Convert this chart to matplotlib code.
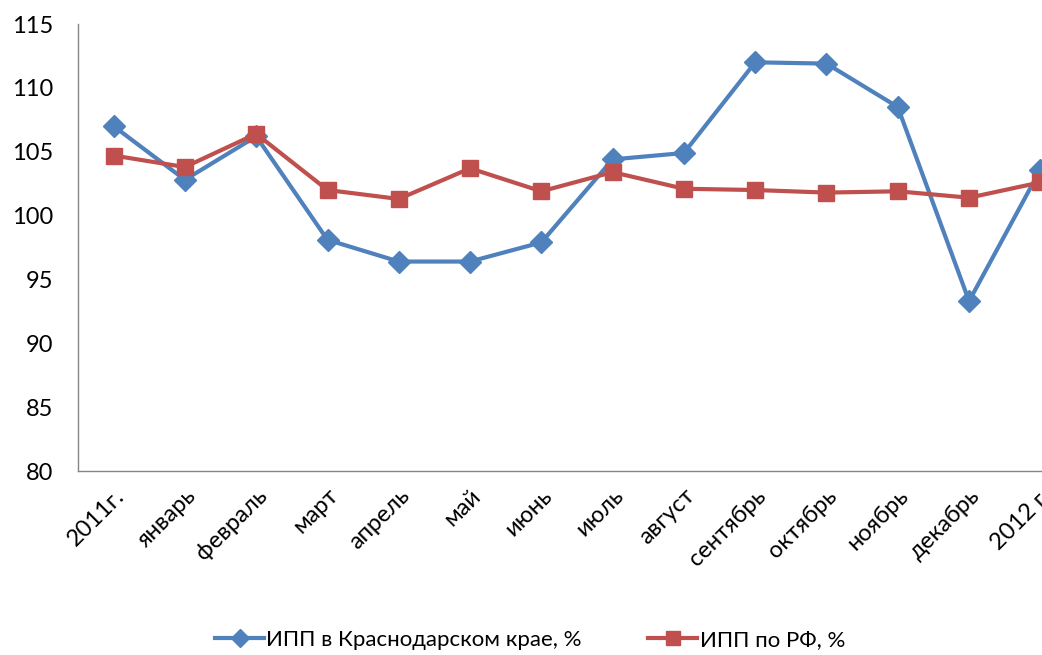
import matplotlib
matplotlib.use("Agg")
import matplotlib.pyplot as plt

categories = ["2011г.", "январь", "февраль", "март", "апрель", "май", "июнь",
              "июль", "август", "сентябрь", "октябрь", "ноябрь", "декабрь", "2012 г."]
krasnodar = [107.0, 102.8, 106.2, 98.1, 96.4, 96.4, 97.9, 104.4, 104.9, 112.0, 111.9, 108.5, 93.3, 103.6]
russia = [104.7, 103.8, 106.4, 102.0, 101.3, 103.7, 101.9, 103.4, 102.1, 102.0, 101.8, 101.9, 101.4, 102.6]
yticks = [80, 85, 90, 95, 100, 105, 110, 115]
label_k = "ИПП в Краснодарском крае, %"
label_r = "ИПП по РФ, %"

plt.rcParams['font.family'] = ['Lato', 'DejaVu Sans']

fig = plt.figure(figsize=(10.42, 6.55), dpi=100)
W, H = 1042, 655
left, right, top, bottom = 78, 1076, 24, 471
ax = fig.add_axes([left / W, 1 - bottom / H, (right - left) / W, (bottom - top) / H])

x = list(range(len(categories)))
ax.plot(x, krasnodar, color="#4F81BD", lw=3, marker="D", ms=11, label=label_k, zorder=3)
ax.plot(x, russia, color="#C0504D", lw=3, marker="s", ms=12, label=label_r, zorder=4)

ax.set_xlim(-0.5, len(categories) - 0.5)
ax.set_ylim(80, 115)
ax.set_yticks(yticks)
ax.set_xticks(x)
ax.set_xticklabels(categories, rotation=45, ha="right", rotation_mode="anchor", fontsize=17)
ax.tick_params(axis="y", labelsize=17, length=0, pad=18)
ax.tick_params(axis="x", length=0, pad=10)
for s in ["top", "right"]:
    ax.spines[s].set_visible(False)
for s in ["left", "bottom"]:
    ax.spines[s].set_color("#868686")
    ax.spines[s].set_linewidth(1)

fig.legend(loc="center", bbox_to_anchor=(530 / W, 1 - 640 / H), ncol=2, frameon=False,
           fontsize=16, handlelength=2.2, columnspacing=3, handletextpad=0.1,
           markerscale=0.8)

fig.savefig("out.png", dpi=100)
